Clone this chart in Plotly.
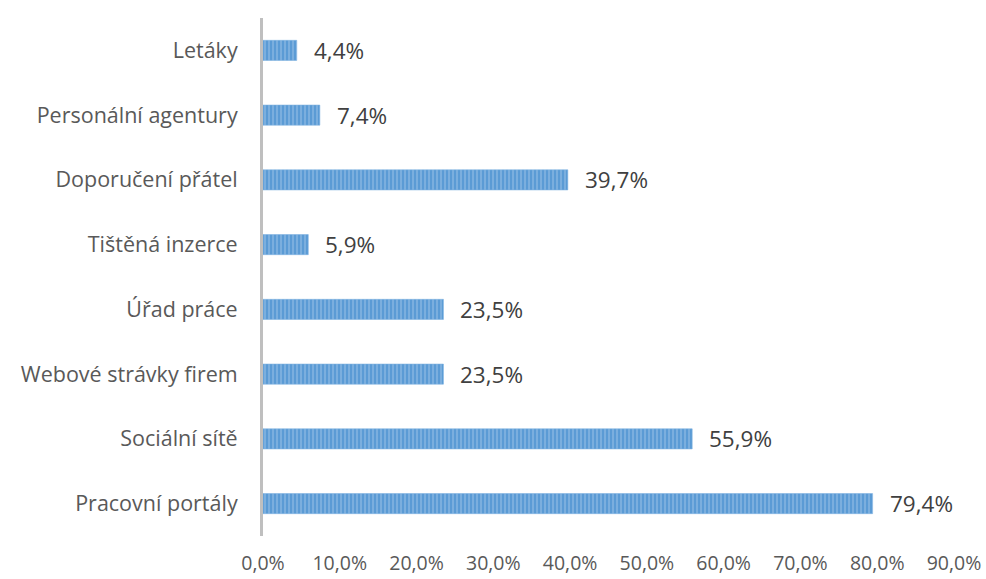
import plotly.graph_objects as go

# Sources of job offers (share of respondents, %)
categories = [
    "Pracovní portály",
    "Sociální sítě",
    "Webové strávky firem",
    "Úřad práce",
    "Tištěná inzerce",
    "Doporučení přátel",
    "Personální agentury",
    "Letáky",
]
values = [79.4, 55.9, 23.5, 23.5, 5.9, 39.7, 7.4, 4.4]

tick_vals = [0, 10, 20, 30, 40, 50, 60, 70, 80, 90]
tick_text = ["0,0%", "10,0%", "20,0%", "30,0%", "40,0%", "50,0%",
             "60,0%", "70,0%", "80,0%", "90,0%"]

FONT = "Open Sans"
GRAY = "#595959"


def fmt(v):
    return f"{v:.1f}".replace(".", ",") + "%"


fig = go.Figure()
fig.add_trace(go.Bar(
    x=values,
    y=categories,
    orientation="h",
    marker=dict(
        color="#5B9BD5",
        line=dict(color="#7EB1E0", width=0.6),
        pattern=dict(shape="|", fgcolor="#C5DCF2", size=4, solidity=0.3,
                     fillmode="overlay"),
    ),
    hoverinfo="skip",
))

for c, v in zip(categories, values):
    fig.add_annotation(
        x=v, y=c, text=fmt(v), showarrow=False,
        xanchor="left", yanchor="middle", xshift=15,
        font=dict(family=FONT, size=22.5, color="#404040"),
    )

fig.update_layout(
    width=986, height=579,
    margin=dict(l=263, r=32, t=18, b=43),
    paper_bgcolor="white", plot_bgcolor="white",
    showlegend=False,
    bargap=0.69,
    font=dict(family=FONT, size=20, color=GRAY),
)
fig.update_xaxes(
    range=[0, 90], tickvals=tick_vals, ticktext=tick_text,
    showgrid=False, zeroline=False, showline=False, ticks="",
    ticklabelstandoff=13, automargin=False,
    tickfont=dict(family=FONT, size=19.5, color=GRAY),
)
fig.update_yaxes(
    categoryorder="array", categoryarray=categories,
    showgrid=False, zeroline=False, ticks="",
    showline=True, linecolor="#BFBFBF", linewidth=3,
    ticklabelstandoff=18, automargin=False,
    tickfont=dict(family=FONT, size=21.5, color=GRAY),
)

fig.write_html("out.html")
